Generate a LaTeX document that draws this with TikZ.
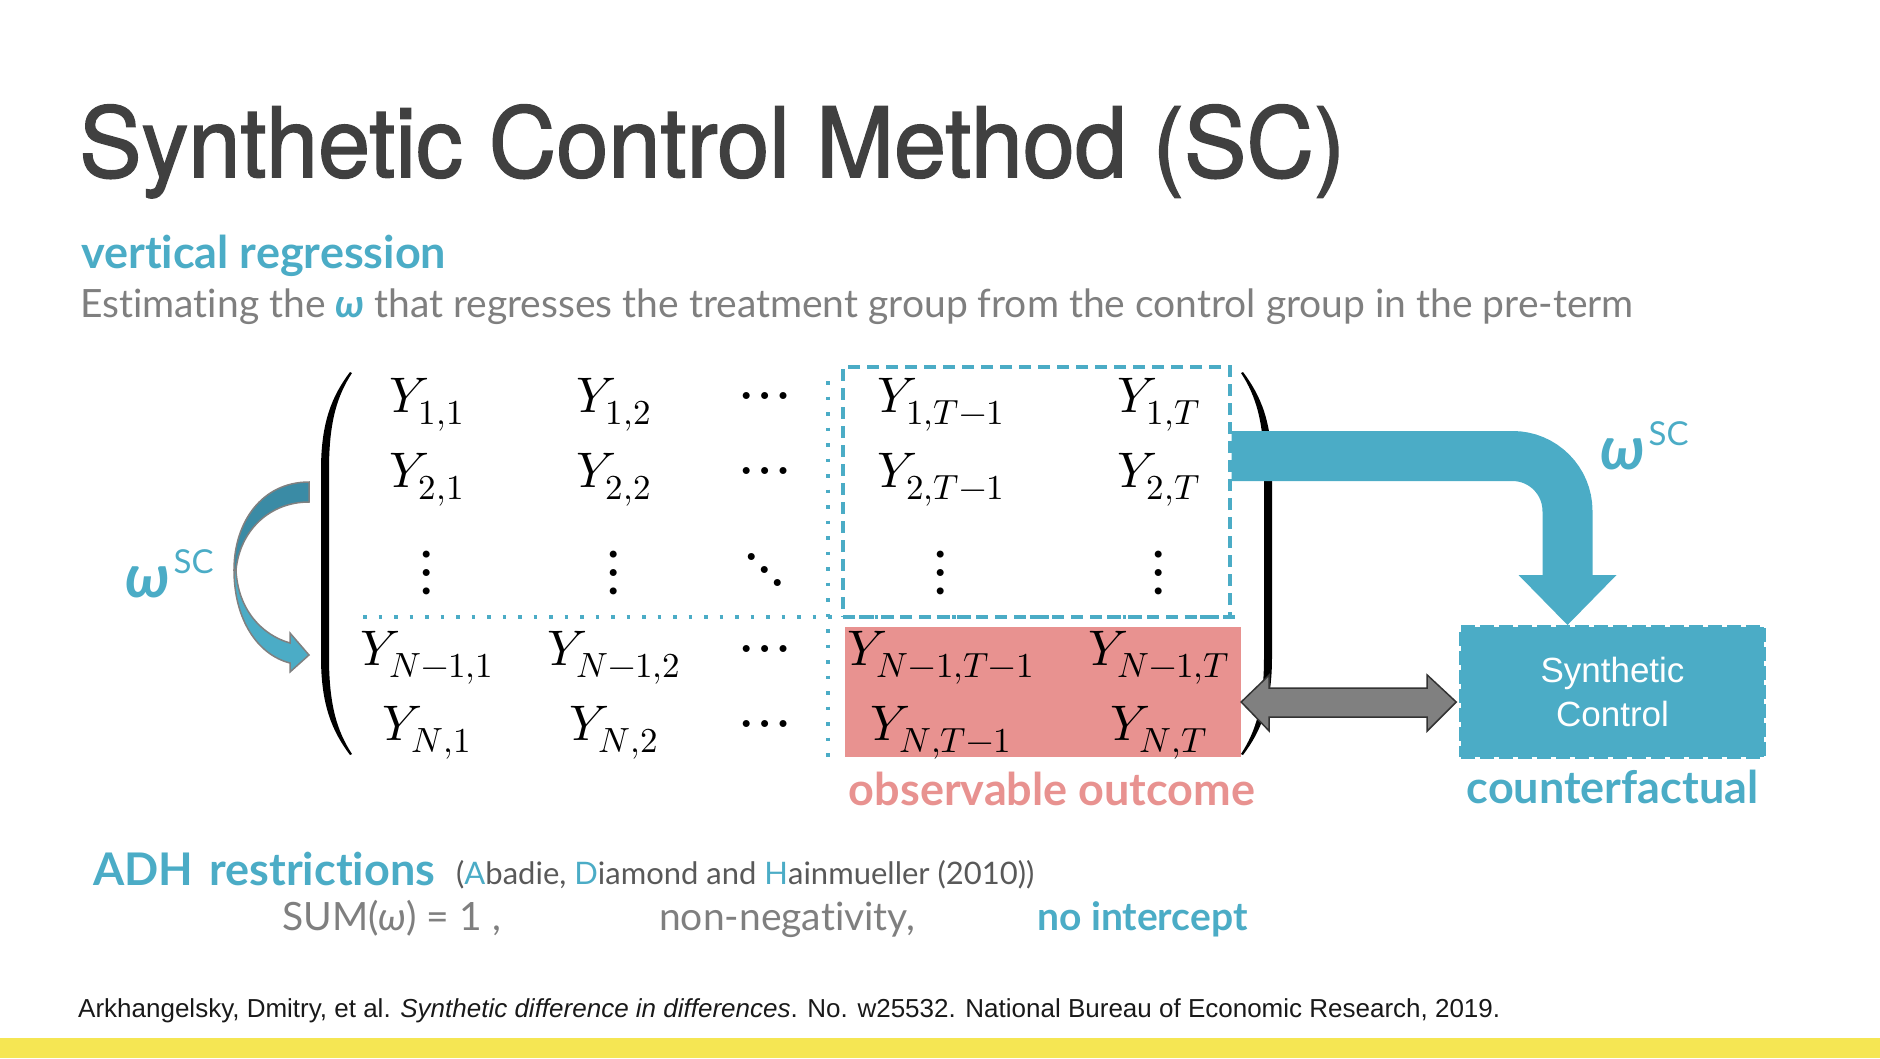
\documentclass[tikz,border=0pt]{standalone}
\usepackage{fontspec}
\usepackage{unicode-math}
\setmainfont{Lato}[Ligatures=NoCommon]
\setmathfont{Latin Modern Math}
\newfontfamily\headfont{TeX Gyre Heros}[FakeBold=1.6]
\newfontfamily\arialfont{Liberation Sans}
\usetikzlibrary{positioning, arrows.meta, calc}

\definecolor{scblue}{HTML}{4BACC6}
\definecolor{scdark}{HTML}{3A8BA5}
\definecolor{scred}{HTML}{E89290}
\definecolor{sctitle}{HTML}{404040}
\definecolor{scgray}{HTML}{7F7F7F}
\definecolor{scdgray}{HTML}{595959}
\definecolor{scarrow}{HTML}{808080}
\definecolor{scyellow}{HTML}{F5E653}

\newcommand\mfont{\fontsize{50}{60}\selectfont}
\newcommand\dfont{\fontsize{66}{70}\selectfont}
\newcommand\wsc{{\fontsize{60}{60}\selectfont\bfseries\itshape ω}\hspace{4pt}\raisebox{24pt}{\fontsize{33}{33}\selectfont SC}}

\begin{document}
\begin{tikzpicture}[
        x=1pt, y=-1pt,
        ttl/.style     = {anchor=base west, inner sep=0pt, text=sctitle, font=\headfont\fontsize{97}{97}\selectfont},
        head/.style    = {anchor=base west, inner sep=0pt, text=scblue, font=\bfseries\fontsize{45}{50}\selectfont},
        body/.style    = {anchor=base west, inner sep=0pt, text=scgray, font=\fontsize{39}{44}\selectfont},
        ent/.style     = {anchor=base, inner sep=0pt, font=\mfont},
        dts/.style     = {inner sep=0pt, font=\dfont},
        obs/.style     = {fill=scred, minimum width=396pt, minimum height=130pt, inner sep=0pt},
        ctrl/.style    = {draw=scblue, line width=3.3pt, dash pattern=on 12pt off 7pt, minimum width=387pt, minimum height=250pt, inner sep=0pt},
        syn/.style     = {fill=scblue, draw=scblue, line width=4pt, dash pattern=on 14pt off 5pt, text=white, align=center,
                          font=\arialfont\fontsize{35}{44}\selectfont, minimum width=303pt, minimum height=130pt, inner sep=0pt},
        dotline/.style = {scblue, line width=3.5pt, dash pattern=on 3.5pt off 12pt},
        bigarrow/.style= {scblue, line width=50pt, rounded corners=55pt},
        dblarrow/.style= {fill=scarrow, draw=black!80, line width=1.5pt, line join=miter},
        curvearrow/.style = {draw=scarrow, line width=1.5pt},
    ]
    \useasboundingbox (0,0) rectangle (1880,1058);

    % heading
    \node[ttl] (title) at (79,177) {\scalebox{0.965}[1]{Synthetic Control Method (SC)}};
    \node[head] (vreg) at (81,268) {vertical regression};
    \node[body] (est) at (80,317) {Estimating the {\color{scblue}\bfseries\itshape ω} that regresses the treatment group from the control group in the pre-term};

    % blocks behind the matrix
    \node[obs] (obs) at (1043,692) {};
    \draw[dotline] (363,617) -- (1235,617);
    \draw[dotline] (828,381) -- (828,761);
    \node[ctrl] (ctrl) at (1036.5,492) {};

    % matrix entries
    \node[ent] (y11) at (427,412) {$Y_{1,1}$};
    \node[ent] (y12) at (614,412) {$Y_{1,2}$};
    \node[ent, font=\dfont] (c1)  at (765,412) {$\cdots$};
    \node[ent] (y1a) at (941,412) {$Y_{1,T-1}$};
    \node[ent] (y1b) at (1159,412) {$Y_{1,T}$};

    \node[ent] (y21) at (427,487) {$Y_{2,1}$};
    \node[ent] (y22) at (614,487) {$Y_{2,2}$};
    \node[ent, font=\dfont] (c2)  at (765,487) {$\cdots$};
    \node[ent] (y2a) at (941,487) {$Y_{2,T-1}$};
    \node[ent] (y2b) at (1159,487) {$Y_{2,T}$};

    \node[dts] (v1) at (427,573) {$\vdots$};
    \node[dts] (v2) at (614,573) {$\vdots$};
    \node[dts] (dd) at (765,570) {$\ddots$};
    \node[dts] (v4) at (941,573) {$\vdots$};
    \node[dts] (v5) at (1159,573) {$\vdots$};

    \node[ent] (ym1) at (427,665) {$Y_{N-1,1}$};
    \node[ent] (ym2) at (614,665) {$Y_{N-1,2}$};
    \node[ent, font=\dfont] (c4)  at (765,665) {$\cdots$};
    \node[ent] (yma) at (941,665) {$Y_{N-1,T-1}$};
    \node[ent] (ymb) at (1159,665) {$Y_{N-1,T}$};

    \node[ent] (yn1) at (427,740) {$Y_{N,1}$};
    \node[ent] (yn2) at (614,740) {$Y_{N,2}$};
    \node[ent, font=\dfont] (c5)  at (765,740) {$\cdots$};
    \node[ent] (yna) at (941,740) {$Y_{N,T-1}$};
    \node[ent] (ynb) at (1159,740) {$Y_{N,T}$};

    % parentheses
    \fill (350,372) .. controls (332,396) and (321,422) .. (321,470) -- (321,657) .. controls (321,705) and (332,731) .. (350,755)
        -- (352,754) .. controls (337,731) and (329,705) .. (329,657) -- (329,470) .. controls (329,422) and (337,396) .. (352,373) -- cycle;
    \begin{scope}[shift={(1593,0)}, xscale=-1]
        \fill (350,372) .. controls (332,396) and (321,422) .. (321,470) -- (321,657) .. controls (321,705) and (332,731) .. (350,755)
            -- (352,754) .. controls (337,731) and (329,705) .. (329,657) -- (329,470) .. controls (329,422) and (337,396) .. (352,373) -- cycle;
    \end{scope}

    % synthetic control
    \node[syn] (syn) at (1612.5,692) {Synthetic\\Control};

    % arrows
    \draw[bigarrow] ([yshift=36pt]ctrl.east) -| ([xshift=-45pt, yshift=48pt]syn.north);
    \fill[scblue] ([xshift=-94pt, yshift=50pt]syn.north) -- ([xshift=4pt, yshift=50pt]syn.north) -- ([xshift=-45pt]syn.north) -- cycle;
    \draw[dblarrow] ([yshift=-10pt]obs.east) -- ++(28,-27) -- ++(0,13) -- ++(158,0) -- ++(0,-13) -- ++(29,27)
        -- ++(-29,29) -- ++(0,-14) -- ++(-158,0) -- ++(0,14) -- cycle;
    \draw[curvearrow, fill=scblue] (234,570) .. controls (234,620) and (258,655) .. (290,663) -- (290,672) -- (309,655) -- (290,633) -- (290,643)
        .. controls (262,635) and (238,610) .. (236,570) -- cycle;
    \draw[curvearrow, fill=scdark] (309,482) .. controls (262,482) and (234,522) .. (234,570) -- (236,570)
        .. controls (240,530) and (270,502) .. (309,502) -- cycle;

    % labels
    \node[anchor=base west, inner sep=0pt, text=scblue] (wl) at (125,597) {\wsc};
    \node[anchor=base west, inner sep=0pt, text=scblue] (wr) at (1600,469) {\wsc};
    \node[head, anchor=base, text=scred] (obslbl) at (1052,805) {observable outcome};
    \node[head, anchor=base] (cflbl) at ([yshift=-44pt]syn.south) {counterfactual};

    % restrictions
    \node[head] (adh) at (93,885) {ADH\hspace{16pt}restrictions};
    \node[anchor=base west, inner sep=0pt, text=scdgray, font=\fontsize{31}{36}\selectfont] (adhref) at (456,884)
        {(\textcolor{scblue}{A}badie, \textcolor{scblue}{D}iamond and \textcolor{scblue}{H}ainmueller (2010))};
    \node[body] (sum) at (282,930) {SUM({\itshape ω}) = 1 ,};
    \node[body] (nonneg) at (659,930) {non-negativity,};
    \node[body, text=scblue, font=\bfseries\fontsize{39}{44}\selectfont] (noint) at (1037,930) {no intercept};

    % reference
    \node[anchor=base west, inner sep=0pt, font=\arialfont\fontsize{26}{30}\selectfont, text=black!90] (cite) at (78,1017)
        {Arkhangelsky, Dmitry, et al. \textit{Synthetic difference in differences}. No. w25532. National Bureau of Economic Research, 2019.};
    \fill[scyellow] (0,1038) rectangle (1880,1058);
\end{tikzpicture}
\end{document}
